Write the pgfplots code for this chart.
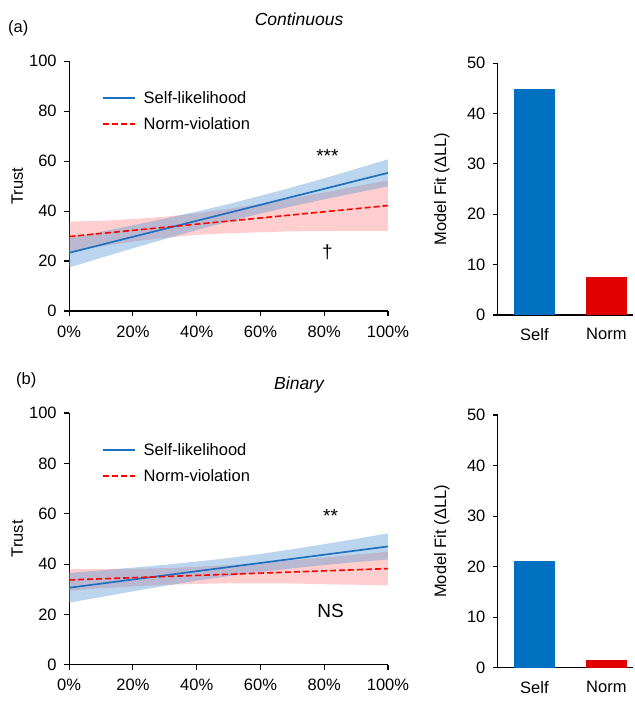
\documentclass[border=0pt]{standalone}
\usepackage{pgfplots}
\pgfplotsset{compat=1.18}
\usepackage{fontspec}
\setmainfont{Liberation Sans}
\definecolor{lineblue}{RGB}{31,111,192}
\definecolor{barblue}{RGB}{0,112,192}
\definecolor{barred}{RGB}{224,0,0}
\definecolor{bandblue}{RGB}{91,155,213}
\definecolor{bandred}{RGB}{255,60,60}
\newcommand{\fs}{\fontsize{16.5}{19}\selectfont}
\newcommand{\fa}{\fontsize{19}{22}\selectfont}
\pgfplotsset{
  myaxis/.style={
    scale only axis,
    axis x line*=bottom, axis y line*=left,
    axis line style={black, line width=1.1pt, -},
    tick style={black, line width=1.1pt},
    tick align=outside, major tick length=5pt,
    /pgf/number format/assume math mode=true,
    tick label style={font=\fs},
    yticklabel style={xshift=-4pt},
    label style={font=\fs},
  },
  lineaxis/.style={
    myaxis, width=319pt,
    xmin=0, xmax=100, ymin=0, ymax=100,
    xtick={0,20,40,60,80,100},
    xticklabels={0\%,20\%,40\%,60\%,80\%,100\%},
    xticklabel style={yshift=-6pt},
    ytick={0,20,40,60,80,100},
    ylabel={Trust},
    ylabel style={at={(axis description cs:-0.163,0.5)}, anchor=center},
    legend style={draw=none, fill=none, font=\fs, at={(axis description cs:0.1025,0.888)}, anchor=north west, row sep=8.5pt, inner sep=0pt,
      /tikz/every odd column/.append style={column sep=6pt}},
    legend cell align=left,
    legend image code/.code={\draw[#1] (0pt,0pt) -- (32pt,0pt);},
  },
  baraxis/.style={
    myaxis, width=135pt, ybar, bar width=41pt,
    xmin=-0.507, xmax=1.368, ymin=0, ymax=50,
    xtick={0,1}, xticklabels={Self,Norm},
    xticklabel style={yshift=-5pt},
    xtick style={draw=none},
    ytick={0,10,20,30,40,50},
    ylabel={Model Fit (ΔLL)},
    ylabel style={at={(axis description cs:-0.415,0.5)}, anchor=center},
  },
  sline/.style={color=lineblue, line width=1.7pt},
  nline/.style={color=red, line width=1.6pt, dash pattern=on 6pt off 3pt},
  sband/.style={fill=bandblue, fill opacity=0.42, draw=none, forget plot},
  nband/.style={fill=bandred, fill opacity=0.25, draw=none, forget plot},
}
\begin{document}
\begin{tikzpicture}
\draw[white, opacity=0] (0,0) rectangle (634pt,704pt);
\node[font=\fs] at (18pt,676pt) {(a)};
\node[font=\fontsize{17.5}{20}\selectfont\itshape] at (299pt,685pt) {Continuous};
\node[font=\fs] at (26pt,324pt) {(b)};
\node[font=\fontsize{17.5}{20}\selectfont\itshape] at (299pt,319pt) {Binary};

% ---------- (a) continuous lines
\begin{axis}[lineaxis, height=250pt, at={(69pt,393pt)}, anchor=south west]
\addplot[nband] coordinates {(0,23.8)(10,25.9)(20,27.8)(30,29.3)(40,30.5)(50,31.1)(60,31.5)(70,31.9)(80,32.0)(90,32.1)(100,32.1)
  (100,52.3)(90,49.9)(80,47.4)(70,45.1)(60,42.9)(50,40.9)(40,39.1)(30,37.7)(20,36.8)(10,36.1)(0,35.8)};
\addplot[sband] coordinates {(0,17.4)(10,21.3)(20,25.1)(30,28.8)(40,32.4)(50,35.8)(60,39.0)(70,41.9)(80,44.7)(90,47.3)(100,49.9)
  (100,60.7)(90,56.9)(80,53.1)(70,49.5)(60,46.1)(50,42.8)(40,39.8)(30,37.0)(20,34.3)(10,31.7)(0,29.2)};
\addplot[sline] coordinates {(0,23.3)(100,55.3)};
\addlegendentry{Self-likelihood}
\addplot[nline] coordinates {(0,29.8)(100,42.2)};
\addlegendentry{Norm-violation}
\node[font=\fa] at (axis cs:81,62) {***};
\node[font=\fa] at (axis cs:81,23.5) {\textdagger};
\end{axis}

% ---------- (a) bars
\begin{axis}[baraxis, height=252pt, at={(498pt,389pt)}, anchor=south west]
\addplot[bar shift=0pt, fill=barblue, draw=none] coordinates {(0,44.9)};
\addplot[bar shift=0pt, fill=barred, draw=none] coordinates {(1,7.6)};
\end{axis}

% ---------- (b) binary lines
\begin{axis}[lineaxis, height=252pt, at={(69pt,39pt)}, anchor=south west]
\addplot[nband] coordinates {(0,29.4)(10,30.4)(20,31.1)(30,31.8)(40,32.1)(50,32.4)(60,32.3)(70,32.3)(80,32.0)(90,31.8)(100,31.5)
  (100,44.9)(90,43.8)(80,42.6)(70,41.5)(60,40.5)(50,39.6)(40,38.9)(30,38.4)(20,38.1)(10,38.0)(0,38.0)};
\addplot[sband] coordinates {(0,24.7)(10,26.9)(20,29.2)(30,31.3)(40,33.4)(50,35.2)(60,36.8)(70,38.3)(80,39.6)(90,40.8)(100,41.8)
  (100,52.2)(90,50.0)(80,47.9)(70,45.9)(60,44.0)(50,42.4)(40,41.0)(30,39.7)(20,38.6)(10,37.5)(0,36.5)};
\addplot[sline] coordinates {(0,30.6)(100,47.0)};
\addlegendentry{Self-likelihood}
\addplot[nline] coordinates {(0,33.7)(100,38.2)};
\addlegendentry{Norm-violation}
\node[font=\fa] at (axis cs:82,59) {**};
\node[font=\fa] at (axis cs:82,21.2) {NS};
\end{axis}

% ---------- (b) bars
\begin{axis}[baraxis, height=253pt, at={(498pt,36pt)}, anchor=south west]
\addplot[bar shift=0pt, fill=barblue, draw=none] coordinates {(0,21.1)};
\addplot[bar shift=0pt, fill=barred, draw=none] coordinates {(1,1.5)};
\end{axis}
\end{tikzpicture}
\end{document}
